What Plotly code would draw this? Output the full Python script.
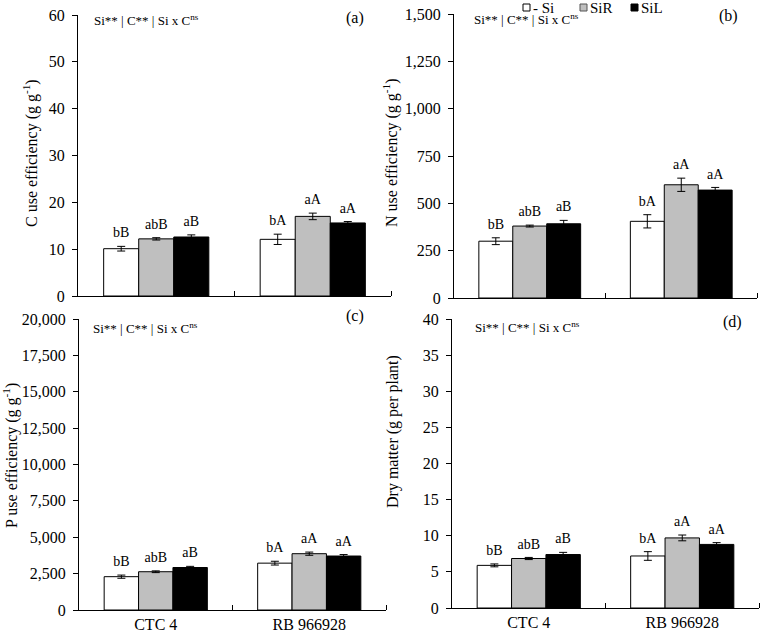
import plotly.graph_objects as go

W, H = 763, 635
FONT = "Liberation Serif"

cultivars = ["CTC 4", "RB 966928"]
treatments = ["- Si", "SiR", "SiL"]
colors = ["#ffffff", "#bfbfbf", "#000000"]

letters = {
    "- Si": ["bB", "bA"],
    "SiR": ["abB", "aA"],
    "SiL": ["aB", "aA"],
}

# (a) C use efficiency
c_mean = {"- Si": [10.1, 12.1], "SiR": [12.2, 17.0], "SiL": [12.6, 15.6]}
c_err = {"- Si": [0.5, 1.1], "SiR": [0.25, 0.7], "SiL": [0.45, 0.3]}
# (b) N use efficiency
n_mean = {"- Si": [300, 405], "SiR": [380, 598], "SiL": [392, 570]}
n_err = {"- Si": [18, 35], "SiR": [5, 35], "SiL": [18, 14]}
# (c) P use efficiency
p_mean = {"- Si": [2290, 3220], "SiR": [2630, 3870], "SiL": [2920, 3710]}
p_err = {"- Si": [110, 130], "SiR": [60, 110], "SiL": [80, 100]}
# (d) Dry matter
d_mean = {"- Si": [5.9, 7.2], "SiR": [6.85, 9.7], "SiL": [7.4, 8.8]}
d_err = {"- Si": [0.2, 0.6], "SiR": [0.15, 0.4], "SiL": [0.3, 0.25]}

panels = [
    dict(mean=c_mean, err=c_err, ymax=60, dtick=10, label="(a)",
         title="C use efficiency (g g<sup>-1</sup>)"),
    dict(mean=n_mean, err=n_err, ymax=1500, dtick=250, label="(b)",
         title="N use efficiency (g g<sup>-1</sup>)"),
    dict(mean=p_mean, err=p_err, ymax=20000, dtick=2500, label="(c)",
         title="P use efficiency (g g<sup>-1</sup>)"),
    dict(mean=d_mean, err=d_err, ymax=40, dtick=5, label="(d)",
         title="Dry matter (g per plant)"),
]

def px(x):
    return x / W

def py(y):
    return 1 - y / H

# pixel boxes (left, right, top, bottom)
boxes = [(78, 391, 15, 296), (454, 757, 14, 298), (79, 386, 319, 610), (452, 759, 319, 608)]
title_pos = [(30, 153), (390, 153), (10, 456), (393, 432)]
label_pos = [(355, 18), (728, 16), (355, 316), (732, 322)]
note_pos = [(92, 20), (472, 19), (91, 328), (473, 327)]

fig = go.Figure()
bw = 0.224
layout = {}
annotations = []

for k, pn in enumerate(panels):
    xa = "x" if k == 0 else f"x{k+1}"
    ya = "y" if k == 0 else f"y{k+1}"
    for i, t in enumerate(treatments):
        xs = [j + (i - 1) * bw for j in range(len(cultivars))]
        fig.add_trace(go.Bar(
            x=xs, y=pn["mean"][t], width=bw, name=t,
            marker=dict(color=colors[i], line=dict(color="#000000", width=1)),
            error_y=dict(type="data", array=pn["err"][t], color="#000000",
                         thickness=1, width=4),
            xaxis=xa, yaxis=ya, showlegend=False, hoverinfo="skip",
        ))
        tops = [m + e for m, e in zip(pn["mean"][t], pn["err"][t])]
        fig.add_trace(go.Scatter(
            x=xs, y=tops, mode="markers+text", text=letters[t], textposition="top center",
            marker=dict(size=7, opacity=0),
            textfont=dict(family=FONT, size=14, color="#000000"),
            xaxis=xa, yaxis=ya, showlegend=False, hoverinfo="skip", cliponaxis=False,
        ))
    l, r, t_, b = boxes[k]
    xkey = "xaxis" if k == 0 else f"xaxis{k+1}"
    ykey = "yaxis" if k == 0 else f"yaxis{k+1}"
    layout[xkey] = dict(
        domain=[px(l), px(r)], anchor=ya, range=[-0.5, 1.5], automargin=False,
        tickvals=[0, 1], ticktext=cultivars, ticks="",
        showticklabels=(k >= 2), showline=True, linecolor="#000000", linewidth=1,
        showgrid=False, zeroline=False,
        minor=dict(tickvals=[0.5, 1.5], ticks="inside", ticklen=5, tickcolor="#000000"),
        tickfont=dict(family=FONT, size=16, color="#000000"),
    )
    layout[ykey] = dict(
        domain=[py(b), py(t_)], anchor=xa, range=[0, pn["ymax"]], dtick=pn["dtick"],
        tickformat=",d", ticks="outside", ticklen=5, tickcolor="#000000", automargin=False,
        ticklabelstandoff=4,
        showline=True, linecolor="#000000", linewidth=1, showgrid=False, zeroline=False,
        tickfont=dict(family=FONT, size=16, color="#000000"),
    )
    tx, ty = title_pos[k]
    annotations.append(dict(x=px(tx), y=py(ty), xref="paper", yref="paper",
                            text=pn["title"], textangle=-90, showarrow=False,
                            xanchor="center", yanchor="middle",
                            font=dict(family=FONT, size=16, color="#000000")))
    lx, ly = label_pos[k]
    annotations.append(dict(x=px(lx), y=py(ly), xref="paper", yref="paper",
                            text=pn["label"], showarrow=False,
                            xanchor="center", yanchor="middle",
                            font=dict(family=FONT, size=16, color="#000000")))
    nx, ny = note_pos[k]
    annotations.append(dict(x=px(nx), y=py(ny), xref="paper", yref="paper",
                            text="Si** | C** | Si x C<sup>ns</sup>", showarrow=False,
                            xanchor="left", yanchor="middle",
                            font=dict(family=FONT, size=13, color="#000000")))

# legend (custom)
shapes = []
leg_x = [523, 580, 631]
for i, t in enumerate(treatments):
    x0 = leg_x[i]
    shapes.append(dict(type="rect", xref="paper", yref="paper",
                       x0=px(x0), x1=px(x0 + 7), y0=py(11), y1=py(4),
                       fillcolor=colors[i], line=dict(color="#000000" if i != 1 else "#555555", width=1)))
    annotations.append(dict(x=px(x0 + 9), y=py(8), xref="paper", yref="paper",
                            text=t, showarrow=False, xanchor="left", yanchor="middle",
                            borderpad=0,
                            font=dict(family=FONT, size=15, color="#000000")))

fig.update_layout(
    width=W, height=H, margin=dict(l=0, r=0, t=0, b=0, autoexpand=False),
    paper_bgcolor="#ffffff", plot_bgcolor="#ffffff",
    barmode="overlay", showlegend=False,
    annotations=annotations, shapes=shapes,
    font=dict(family=FONT, color="#000000"),
    **layout,
)

fig.write_html(
    "out.html",
    config={"displayModeBar": False},
    post_script="document.body.style.margin='0';document.body.style.overflow='hidden';",
)
